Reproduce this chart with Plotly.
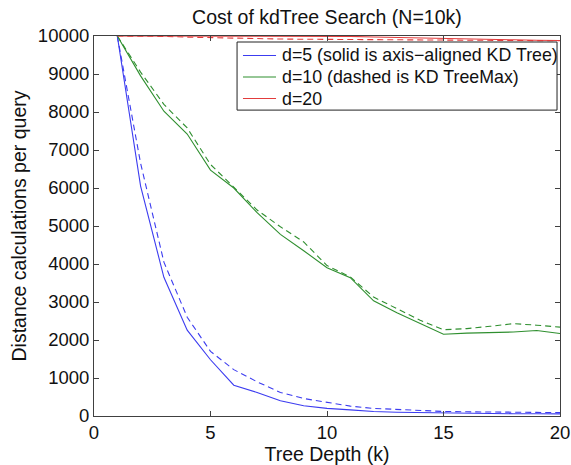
import plotly.graph_objects as go

# Tree depth k
depth = list(range(1, 21))

# Distance calculations per query, solid = axis-aligned KD Tree, dashed = KD TreeMax
d5_solid = [10000, 6050, 3650, 2260, 1480, 810, 620, 400, 270, 200,
            160, 120, 100, 90, 80, 70, 65, 60, 60, 55]
d5_dashed = [10000, 6650, 4050, 2600, 1700, 1220, 900, 620, 460, 350,
             260, 200, 170, 140, 120, 110, 100, 100, 95, 90]
d10_solid = [10000, 8950, 8020, 7420, 6470, 6000, 5350, 4780, 4350, 3900,
             3640, 3030, 2720, 2430, 2150, 2180, 2200, 2210, 2250, 2170]
d10_dashed = [10000, 9050, 8200, 7580, 6620, 6030, 5420, 4980, 4580, 3960,
              3660, 3130, 2820, 2520, 2270, 2300, 2360, 2430, 2390, 2340]
d20_solid = [10000, 10000, 10000, 10000, 10000, 10000, 10000, 10000, 10000, 10000,
             9990, 9975, 9960, 9945, 9930, 9920, 9910, 9900, 9890, 9880]
d20_dashed = [10000, 10000, 9990, 9970, 9955, 9940, 9930, 9920, 9915, 9910,
              9905, 9900, 9900, 9895, 9890, 9890, 9885, 9880, 9880, 9875]

labels = ["d=5 (solid is axis\u2212aligned KD Tree)",
          "d=10 (dashed is KD TreeMax)",
          "d=20"]
colors = ["#3c3cf0", "#2f8f2f", "#e23c3c"]

x_ticks = [0, 5, 10, 15, 20]
y_ticks = list(range(0, 10001, 1000))
y_tick_text = [str(v) for v in y_ticks]

FONT = "Liberation Sans, Arial, Helvetica, sans-serif"

fig = go.Figure()
series = [(d5_solid, d5_dashed), (d10_solid, d10_dashed), (d20_solid, d20_dashed)]
for (solid, dashed), name, col in zip(series, labels, colors):
    fig.add_trace(go.Scatter(x=depth, y=solid, mode="lines", name=name,
                             showlegend=False,
                             line=dict(color=col, width=1.1)))
for (solid, dashed), name, col in zip(series, labels, colors):
    fig.add_trace(go.Scatter(x=depth, y=dashed, mode="lines", name=name,
                             showlegend=False,
                             line=dict(color=col, width=1.1, dash="6px,4px")))

# Compact MATLAB-style legend box (paper coordinates)
box_x0, box_x1 = 0.307, 0.9936
box_y0, box_y1 = 0.805, 0.9842
sample_x0, sample_x1 = 0.3197, 0.3906
text_x = 0.399
row_y = [0.9487, 0.8921, 0.8355]

shapes = [dict(type="rect", xref="paper", yref="paper",
               x0=box_x0, x1=box_x1, y0=box_y0, y1=box_y1,
               fillcolor="white", line=dict(color="#222", width=1),
               layer="above")]
annotations = []
for name, col, yy in zip(labels, colors, row_y):
    shapes.append(dict(type="line", xref="paper", yref="paper",
                       x0=sample_x0, x1=sample_x1, y0=yy, y1=yy,
                       line=dict(color=col, width=1.1), layer="above"))
    annotations.append(dict(text=name, xref="paper", yref="paper",
                            x=text_x, y=yy, xanchor="left", yanchor="middle",
                            showarrow=False,
                            font=dict(family=FONT, size=17.8, color="#111")))

axis_common = dict(
    showgrid=False, zeroline=False, showline=True, linecolor="#404040",
    linewidth=1, mirror="allticks", ticks="inside", ticklen=5,
    tickcolor="#404040", tickfont=dict(family=FONT, size=18.5, color="#111"),
    automargin=False,
)

fig.update_layout(
    width=571, height=465,
    margin=dict(l=94, r=11, t=36, b=49),
    paper_bgcolor="white", plot_bgcolor="white",
    title=dict(text="Cost of kdTree Search (N=10k)", x=0.5725, xanchor="center",
               y=0.962, yanchor="middle",
               font=dict(family=FONT, size=19.5, color="#111")),
    xaxis=dict(range=[0, 20], tickvals=x_ticks,
               title=dict(text="Tree Depth (k)", standoff=2,
                          font=dict(family=FONT, size=19.5, color="#111")),
               **axis_common),
    yaxis=dict(range=[0, 10000], tickvals=y_ticks, ticktext=y_tick_text,
               title=dict(text="Distance calculations per query", standoff=6,
                          font=dict(family=FONT, size=19.5, color="#111")),
               **axis_common),
    shapes=shapes,
    annotations=annotations,
    showlegend=False,
)

fig.write_html("out.html")
